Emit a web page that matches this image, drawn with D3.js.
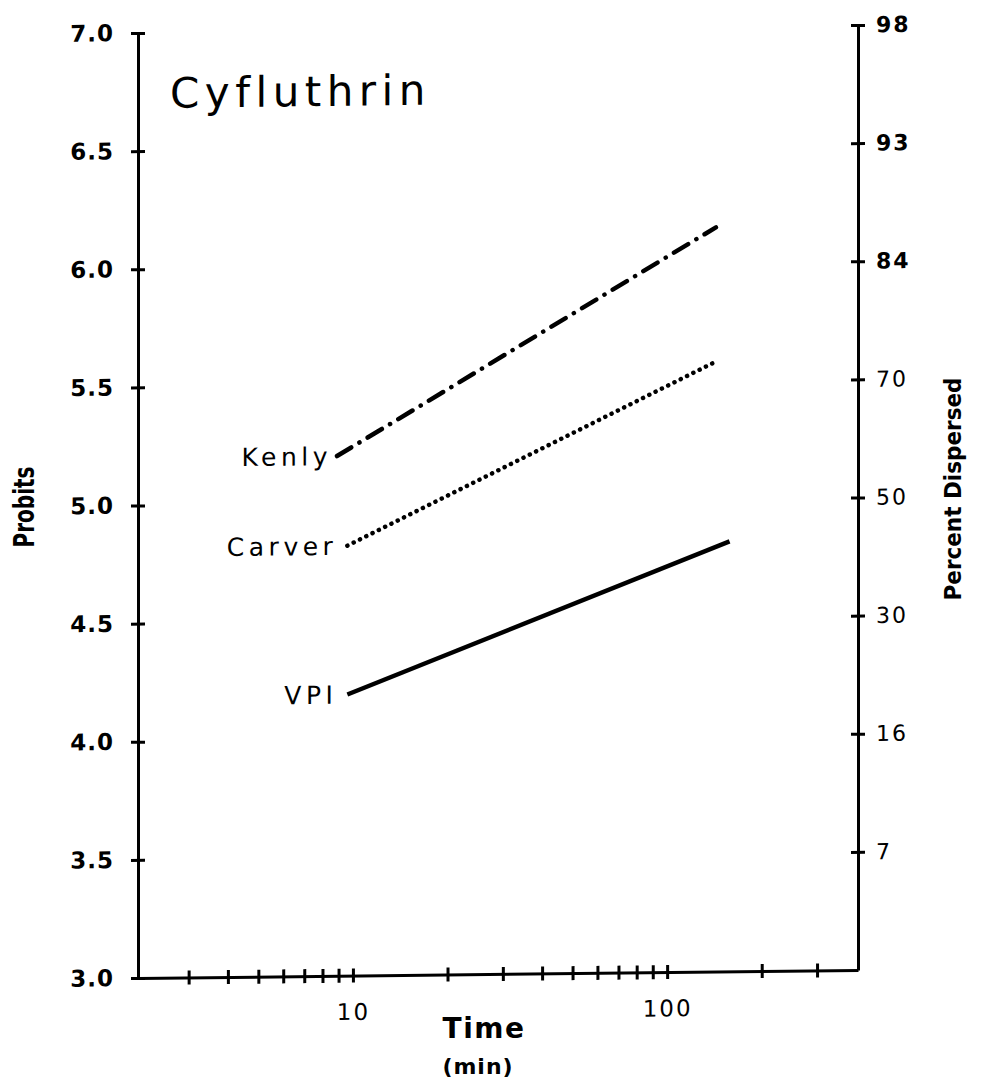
<!DOCTYPE html>
<html>
<head>
<meta charset="utf-8">
<script src="https://cdn.jsdelivr.net/npm/d3@7"></script>
<style>
body { margin: 0; background: #fff; }
text { font-family: "DejaVu Sans", sans-serif; fill: #000; }
</style>
</head>
<body>
<div id="chart"></div>
<script>
// data (time in min, probits)
var seriesNames = ["Kenly", "Carver", "VPI"];
var kenly  = [[8.9, 5.20], [143, 6.15]];
var carver = [[9.6, 4.82], [142, 5.58]];
var vpi    = [[9.6, 4.19], [158, 4.82]];

var xTicks = [3, 4, 5, 6, 7, 8, 9, 10, 20, 30, 40, 50, 60, 70, 80, 90, 100, 200, 300];
var xTickLabels = [10, 100];
var yTicks = [3.0, 3.5, 4.0, 4.5, 5.0, 5.5, 6.0, 6.5, 7.0];
var rightTicks = [3.5, 4.0, 4.5, 5.0, 5.5, 6.0, 6.5, 7.0];
var rightTickLabels = ["7", "16", "30", "50", "70", "84", "93", "98"];

var title = "Cyfluthrin";

var lineStyle = {
    Kenly:  { width: 4.5, dash: "16.5 9.5 0.1 9.5", cap: "round", dx: -5 },
    Carver: { width: 4.5, dash: "0.1 6.9",          cap: "round", dx: -10 },
    VPI:    { width: 4.5, dash: null,               cap: "butt",  dx: -10 }
};

var margin = { top: 33, left: 138 };
var width = 720, height = 945;

var svg = d3.select("#chart").append("svg")
    .attr("width", 981)
    .attr("height", 1083)
    .style("background", "#fff");

// the scan is slightly tilted, so skew the plot group a bit
var g = svg.append("g")
    .attr("transform", "translate(" + margin.left + "," + margin.top + ") skewY(-0.64)");

var x = d3.scaleLog().domain([2.07, 405]).range([0, width]);
var y = d3.scaleLinear().domain([3, 7]).range([height, 0]);

var yAxis = d3.axisLeft(y)
    .tickValues(yTicks)
    .tickFormat(d3.format(".1f"))
    .tickSize(7)
    .tickSizeOuter(0)
    .tickPadding(17);

var rAxis = d3.axisRight(y)
    .tickValues(rightTicks)
    .tickFormat(function (d, i) { return rightTickLabels[i]; })
    .tickSize(7)
    .tickSizeOuter(0)
    .tickPadding(11);

var xAxis = d3.axisBottom(x)
    .tickValues(xTicks)
    .tickFormat(function (d) { return xTickLabels.indexOf(d) >= 0 ? d : ""; })
    .tickSize(7)
    .tickSizeOuter(0)
    .tickPadding(21);

var gY = g.append("g").attr("class", "axis y").call(yAxis);
gY.selectAll(".tick line").attr("x2", -7).attr("x1", 7);
gY.selectAll(".tick text")
    .style("font-size", "23px").style("font-weight", "bold").style("letter-spacing", "1px");

var gR = g.append("g").attr("class", "axis r")
    .attr("transform", "translate(" + width + ",0)")
    .call(rAxis);
gR.selectAll(".tick line").attr("x1", -7).attr("x2", 7);
gR.selectAll(".tick text")
    .style("font-size", "22px")
    .style("font-weight", function (d) { return d >= 6 ? "bold" : "normal"; })
    .style("letter-spacing", "2px");

var gX = g.append("g").attr("class", "axis x")
    .attr("transform", "translate(0," + height + ")")
    .call(xAxis);
gX.selectAll(".tick line").attr("y1", -7).attr("y2", 7);
gX.selectAll(".tick text")
    .style("font-size", "23px").style("letter-spacing", "2px");

g.selectAll(".axis path").attr("stroke-width", 3).attr("stroke", "#000");
g.selectAll(".axis line").attr("stroke-width", 3).attr("stroke", "#000");

// lines
var line = d3.line()
    .x(function (d) { return x(d[0]); })
    .y(function (d) { return y(d[1]); });

var allSeries = [kenly, carver, vpi];

allSeries.forEach(function (data, i) {
    var st = lineStyle[seriesNames[i]];
    g.append("path")
        .datum(data)
        .attr("fill", "none")
        .attr("stroke", "#000")
        .attr("stroke-width", st.width)
        .attr("stroke-linecap", st.cap)
        .attr("stroke-dasharray", st.dash)
        .attr("d", line);

    g.append("text")
        .attr("x", x(data[0][0]) + st.dx)
        .attr("y", y(data[0][1]))
        .attr("dy", "0.36em")
        .attr("text-anchor", "end")
        .style("font-size", "25px")
        .style("letter-spacing", "4.5px")
        .text(seriesNames[i]);
});

// title
g.append("text")
    .attr("x", 32)
    .attr("y", 75)
    .style("font-size", "42px")
    .style("letter-spacing", "5.5px")
    .text(title);

// axis titles
svg.append("text")
    .attr("transform", "translate(484,1038)")
    .attr("text-anchor", "middle")
    .style("font-size", "28px")
    .style("font-weight", "bold")
    .style("letter-spacing", "1.5px")
    .text("Time");

svg.append("text")
    .attr("transform", "translate(478,1074)")
    .attr("text-anchor", "middle")
    .style("font-size", "22px")
    .style("font-weight", "bold")
    .style("letter-spacing", "1px")
    .text("(min)");

svg.append("text")
    .attr("transform", "translate(34,507) rotate(-90)")
    .attr("text-anchor", "middle")
    .attr("textLength", 81)
    .attr("lengthAdjust", "spacingAndGlyphs")
    .style("font-size", "28px")
    .style("font-weight", "bold")
    .text("Probits");

svg.append("text")
    .attr("transform", "translate(961,489) rotate(-90)")
    .attr("text-anchor", "middle")
    .attr("textLength", 223)
    .attr("lengthAdjust", "spacingAndGlyphs")
    .style("font-size", "23px")
    .style("font-weight", "bold")
    .text("Percent Dispersed");
</script>
</body>
</html>
